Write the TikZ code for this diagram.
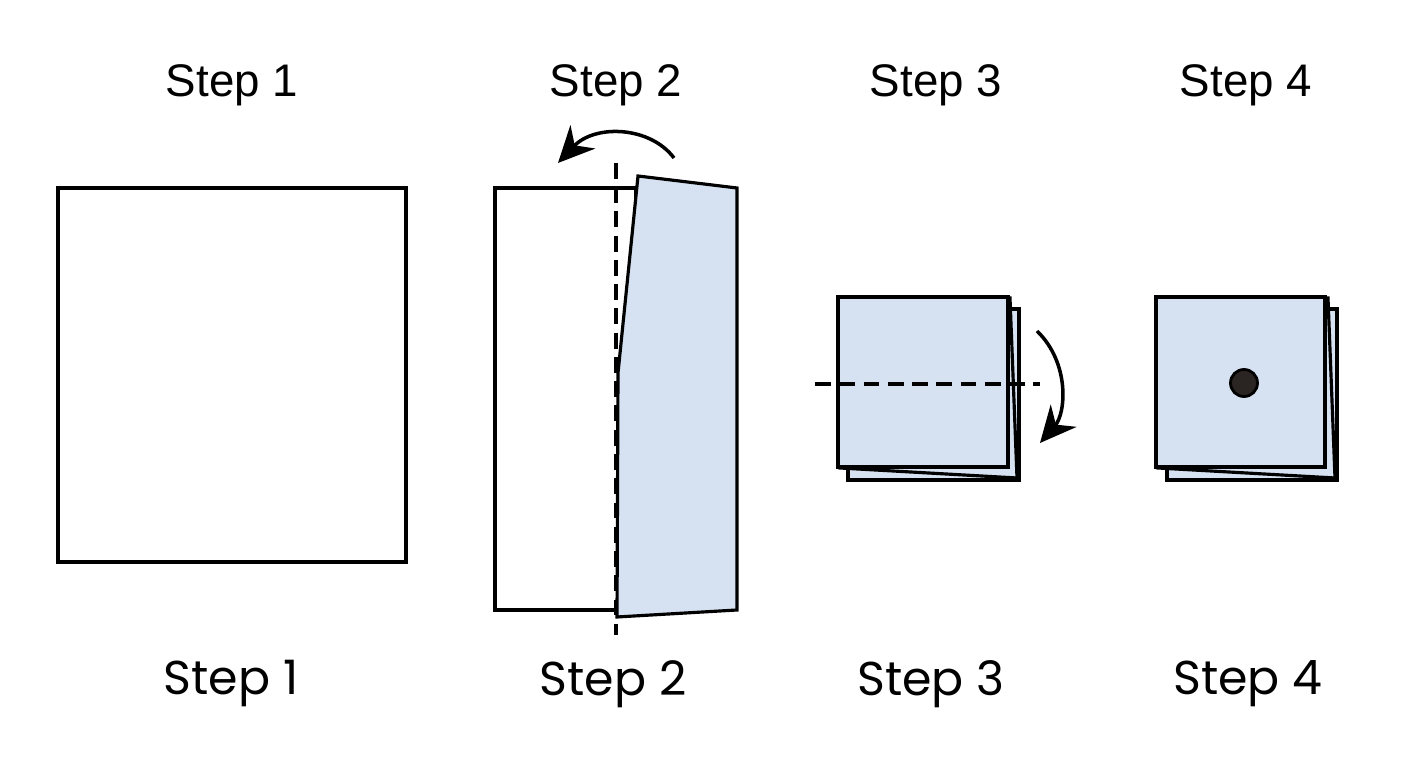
\documentclass[tikz,border=0pt]{standalone}
\usepackage{fontspec}
\setmainfont{Liberation Sans}
\newfontfamily\captionfont{Poppins}
\usetikzlibrary{arrows.meta}
\definecolor{paperblue}{RGB}{214,226,241}
\definecolor{dotdark}{RGB}{42,37,34}

\begin{document}
\begin{tikzpicture}[
    paper/.style={draw=black, line width=0.9pt, fill=white, line join=miter},
    flap/.style={draw=black, line width=0.9pt, fill=paperblue, line join=miter},
    fold/.style={draw=black, line width=1.1pt, dash pattern=on 4.5pt off 2.4pt},
    turn/.style={-{Stealth[length=3.6mm, width=3.4mm]}, line width=1pt},
    toplabel/.style={font=\fontsize{13}{15}\selectfont},
    botlabel/.style={font=\captionfont\fontsize{13.5}{16}\selectfont}
]
\useasboundingbox (0,0) rectangle (14.08,7.68);

% step 1: plain sheet
\draw[paper] (0.58,2.06) rectangle (4.06,5.80);

% step 2: half folded over
\draw[paper] (4.95,1.58) rectangle (6.36,5.80);
\draw[flap] (6.38,5.92) -- (7.37,5.80) -- (7.37,1.58) -- (6.17,1.51) -- (6.18,3.95) -- cycle;
\draw[fold] (6.16,6.05) -- (6.16,1.33);
\coordinate (flipstart) at (6.74,6.10);
\coordinate (flipend) at (5.58,6.05);
\draw[turn] (flipstart) .. controls (6.50,6.42) and (5.95,6.44) .. (flipend);

% step 3: folded twice
\draw[flap] (8.48,2.88) rectangle (10.19,4.59);
\draw[flap] (8.40,3.00) -- (10.17,2.90) -- (10.10,4.70) -- (8.40,4.70) -- cycle;
\draw[flap] (8.38,3.01) rectangle (10.08,4.71);
\draw[fold] (8.15,3.84) -- (10.40,3.84);
\coordinate (downstart) at (10.37,4.37);
\coordinate (downend) at (10.40,3.25);
\draw[turn] (downstart) .. controls (10.70,4.05) and (10.66,3.55) .. (downend);

% step 4: punched
\draw[flap] (11.67,2.88) rectangle (13.37,4.59);
\draw[flap] (11.58,3.00) -- (13.35,2.90) -- (13.28,4.70) -- (11.58,4.70) -- cycle;
\draw[flap] (11.56,3.01) rectangle (13.25,4.71);
\node[circle, draw=black, line width=0.8pt, fill=dotdark, minimum size=0.27cm, inner sep=0pt] (hole) at (12.44,3.85) {};

% labels
\node[toplabel] (top1) at (2.32,6.83) {Step 1};
\node[toplabel] (top2) at (6.16,6.83) {Step 2};
\node[toplabel] (top3) at (9.36,6.83) {Step 3};
\node[toplabel] (top4) at (12.46,6.83) {Step 4};
\node[botlabel] (bot1) at (2.31,0.84) {Step 1};
\node[botlabel] (bot2) at (6.13,0.84) {Step 2};
\node[botlabel] (bot3) at (9.31,0.84) {Step 3};
\node[botlabel] (bot4) at (12.48,0.84) {Step 4};
\end{tikzpicture}
\end{document}
